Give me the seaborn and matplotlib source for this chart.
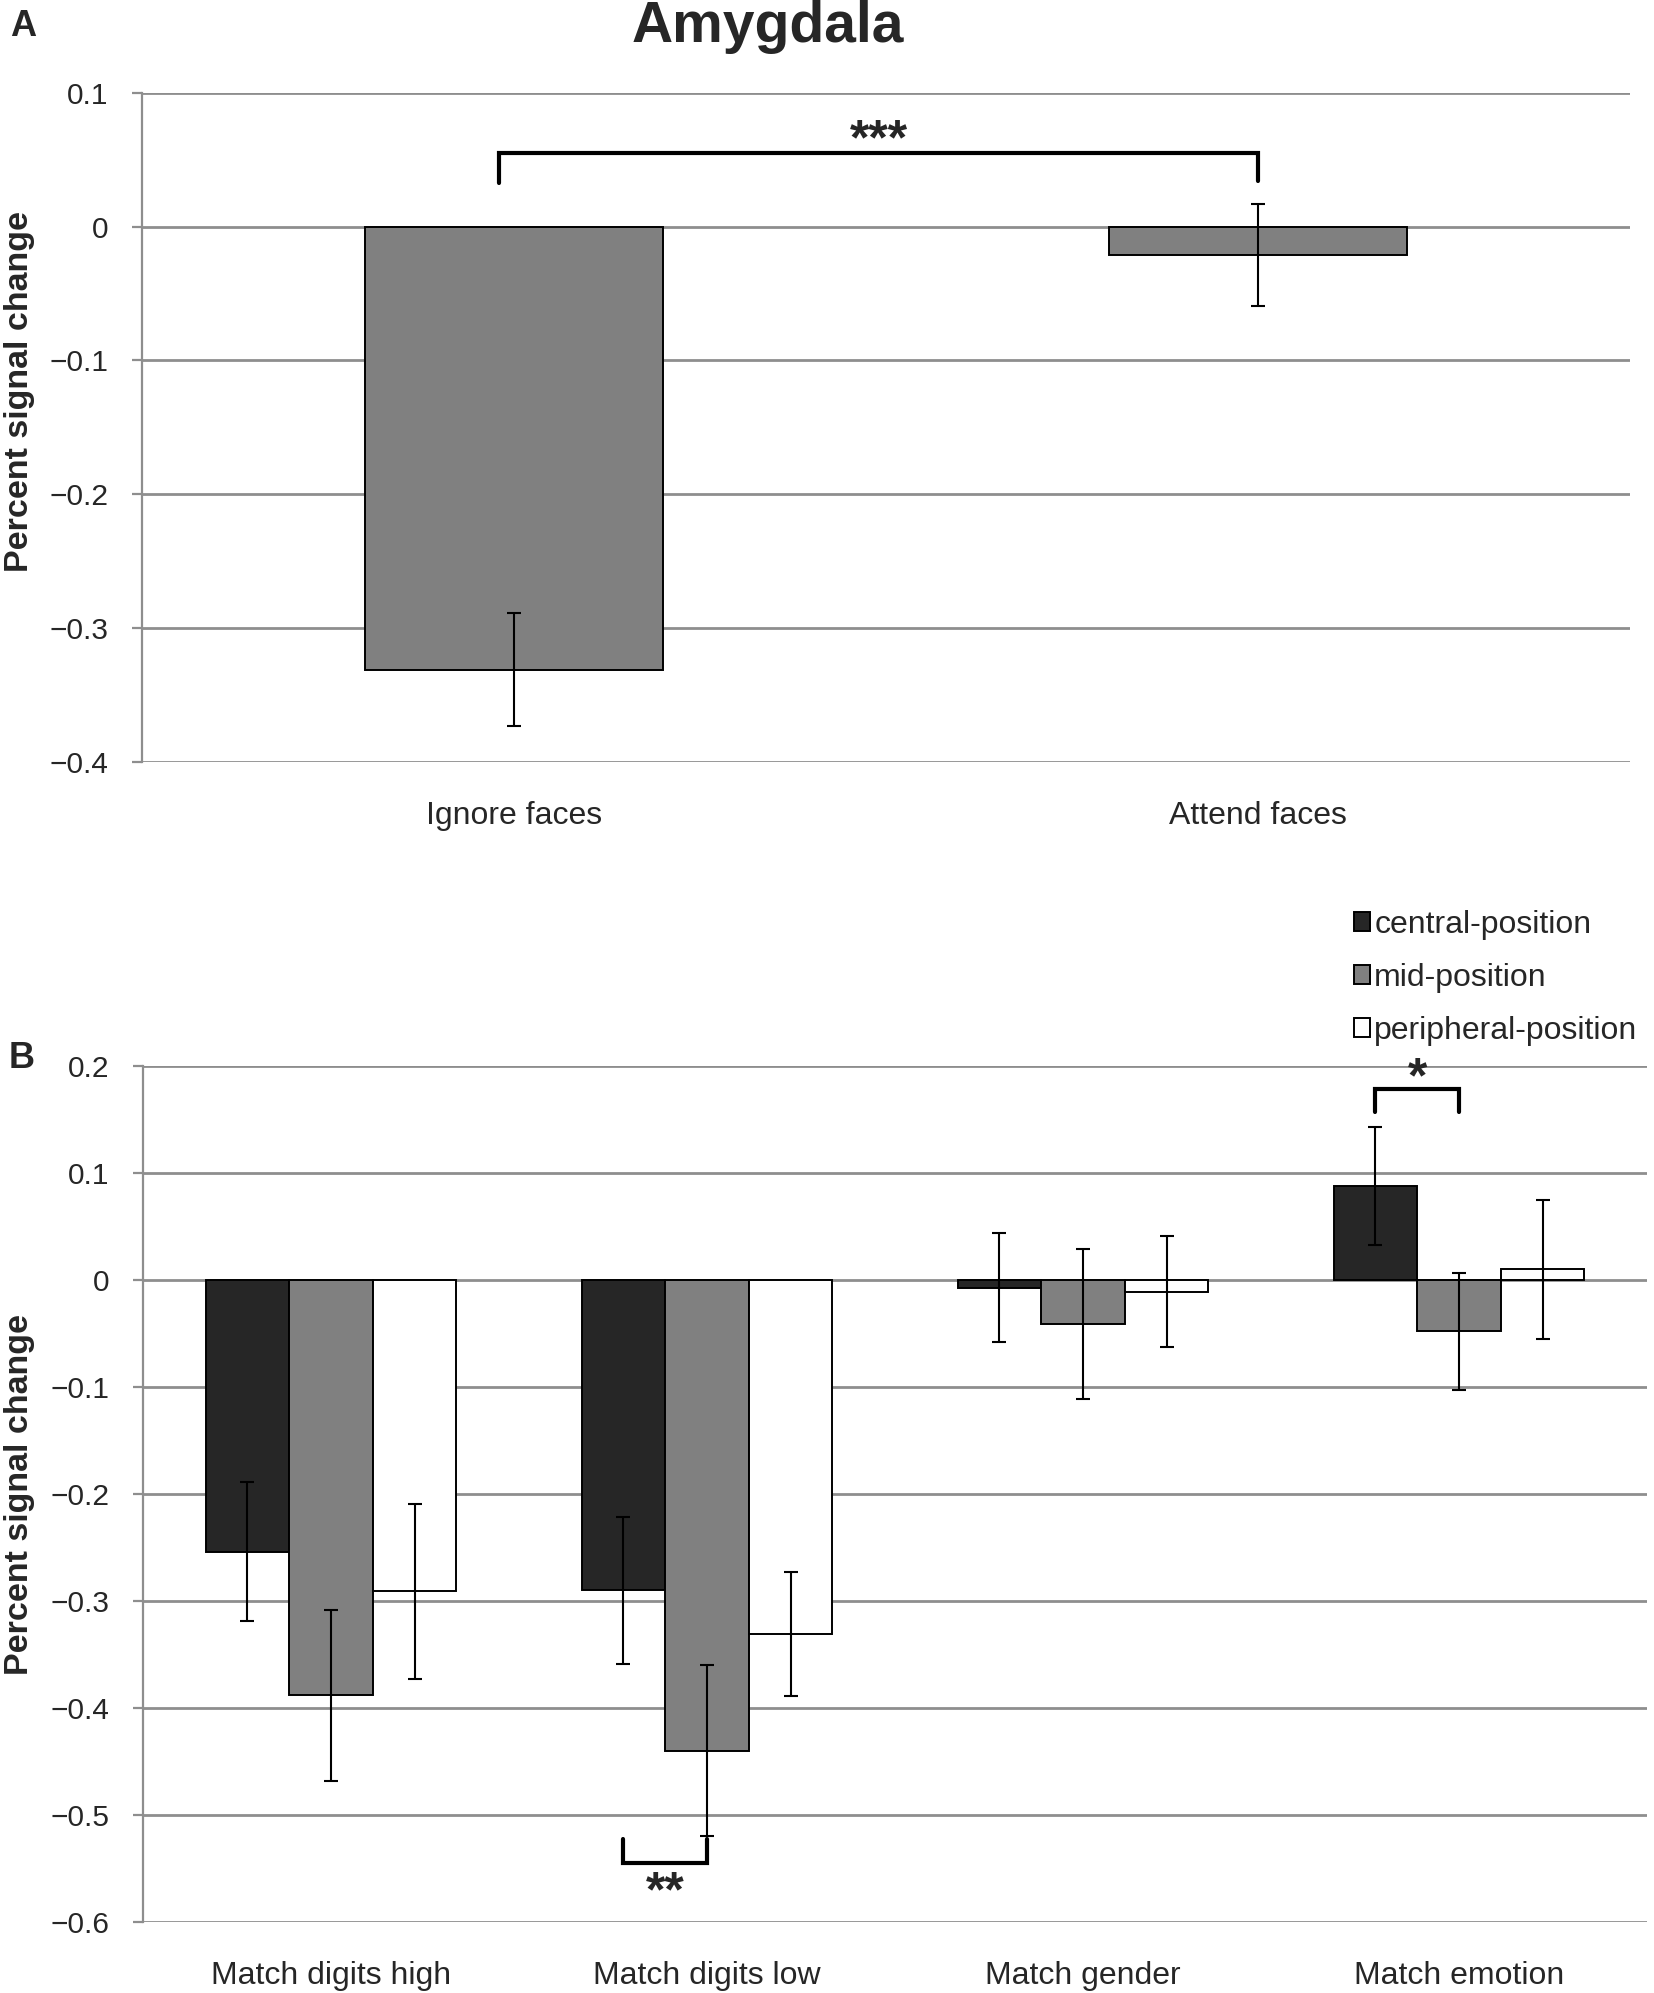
import numpy as np
import pandas as pd
import matplotlib
matplotlib.use('Agg')
import matplotlib.pyplot as plt
import seaborn as sns

# panel A
conds_a = ['Ignore faces', 'Attend faces']
psc_a = [-0.331, -0.021]
err_a = [0.042, 0.038]

# panel B
tasks_b = ['Match digits high', 'Match digits low', 'Match gender', 'Match emotion']
positions_b = ['central-position', 'mid-position', 'peripheral-position']
psc_central = [-0.254, -0.290, -0.007, 0.088]
psc_mid = [-0.388, -0.440, -0.041, -0.048]
psc_periph = [-0.291, -0.331, -0.011, 0.010]
err_central = [0.065, 0.069, 0.051, 0.055]
err_mid = [0.080, 0.080, 0.070, 0.055]
err_periph = [0.082, 0.058, 0.052, 0.065]

yticks_a = [0.1, 0.0, -0.1, -0.2, -0.3, -0.4]
yticks_b = [0.2, 0.1, 0.0, -0.1, -0.2, -0.3, -0.4, -0.5, -0.6]

sns.set_style('white')
plt.rcParams['font.family'] = ['Liberation Sans', 'DejaVu Sans']
plt.rcParams['axes.unicode_minus'] = True

df_a = pd.DataFrame({'cond': conds_a, 'psc': psc_a, 'err': err_a})
df_b = pd.DataFrame({
    'task': tasks_b * 3,
    'pos': np.repeat(positions_b, len(tasks_b)),
    'psc': psc_central + psc_mid + psc_periph,
    'err': err_central + err_mid + err_periph,
})

fig = plt.figure(figsize=(16.54, 19.93), dpi=100)
ax1 = fig.add_axes([0.0859, 0.6177, 0.8996, 0.3357])
ax2 = fig.add_axes([0.0865, 0.0356, 0.9093, 0.4295])

grid_col = '#8e8e8e'


def style_axis(ax, ticks):
    ax.set_ylim(ticks[-1], ticks[0])
    ax.set_yticks(ticks)
    ax.set_yticklabels(['0' if t == 0 else ('%.1f' % t).replace('-', '\u2212') for t in ticks])
    ax.yaxis.grid(True, color=grid_col, lw=2.0)
    ax.set_axisbelow(True)
    for s in ['top', 'right', 'bottom']:
        ax.spines[s].set_visible(False)
    ax.spines['left'].set_color(grid_col)
    ax.spines['left'].set_linewidth(1.6)
    ax.tick_params(axis='y', direction='out', length=7, width=1.6, color=grid_col,
                   labelsize=21.5, pad=17, left=True)
    ax.tick_params(axis='x', length=0, labelsize=23, pad=28)
    ax.set_xlabel('')
    ax.set_ylabel('Percent signal change', fontsize=24.5, fontweight='bold')


# ---- A ----
sns.barplot(data=df_a, x='cond', y='psc', color='#808080', width=0.4,
            edgecolor='black', linewidth=1.4, errorbar=None, saturation=1, ax=ax1)
bars_a = ax1.containers[0].patches
xa = [p.get_x() + p.get_width() / 2 for p in bars_a]
ax1.errorbar(xa, df_a['psc'], yerr=df_a['err'], fmt='none', ecolor='black',
             elinewidth=1.5, capsize=5, capthick=1.5, zorder=5)
style_axis(ax1, yticks_a)
ax1.set_xlim(-0.5, 1.5)
ax1.yaxis.set_label_coords(-0.072, 0.553)

# significance bracket A
xl, xr = xa[0] - 0.02, xa[1]
ax1.plot([xl, xl, xr, xr], [0.033, 0.0553, 0.0553, 0.034], color='black', lw=3,
         solid_joinstyle='miter', zorder=6)
ax1.annotate('***', ((xl + xr) / 2, 0.0695), xytext=(0, -15), textcoords='offset points',
             ha='center', va='baseline', fontsize=36, fontweight='bold')

# ---- B ----
pal = {'central-position': '#262626', 'mid-position': '#808080', 'peripheral-position': 'white'}
sns.barplot(data=df_b, x='task', y='psc', hue='pos', hue_order=positions_b, palette=pal,
            width=0.667, edgecolor='black', linewidth=1.4, errorbar=None, saturation=1, ax=ax2)
centers = {}
for pos, cont in zip(positions_b, ax2.containers):
    xs = [p.get_x() + p.get_width() / 2 for p in cont.patches]
    centers[pos] = xs
    sub = df_b[df_b['pos'] == pos]
    ax2.errorbar(xs, sub['psc'], yerr=sub['err'], fmt='none', ecolor='black',
                 elinewidth=1.5, capsize=5, capthick=1.5, zorder=5)
style_axis(ax2, yticks_b)
ax2.set_xlim(-0.5, 3.5)
ax2.yaxis.set_label_coords(-0.072, 0.5)

handles, labels = ax2.get_legend_handles_labels()
ax2.get_legend().remove()
fig.legend(handles, labels, loc='upper left', bbox_to_anchor=(0.8185, 0.5435),
           frameon=False, fontsize=23, handlelength=0.52, handleheight=0.52,
           handletextpad=0.12, labelspacing=0.72, borderpad=0, borderaxespad=0)

# brackets B
x1, x2 = centers['central-position'][1], centers['mid-position'][1]
ax2.plot([x1, x1, x2, x2], [-0.522, -0.545, -0.545, -0.522], color='black', lw=3,
         solid_joinstyle='miter', zorder=6)
ax2.annotate('**', ((x1 + x2) / 2, -0.565), xytext=(0, -16), textcoords='offset points',
             ha='center', va='baseline', fontsize=36, fontweight='bold')
x1, x2 = centers['central-position'][3], centers['mid-position'][3]
ax2.plot([x1, x1, x2, x2], [0.157, 0.179, 0.179, 0.157], color='black', lw=3,
         solid_joinstyle='miter', zorder=6)
ax2.annotate('*', ((x1 + x2) / 2, 0.196), xytext=(0, -16), textcoords='offset points',
             ha='center', va='baseline', fontsize=36, fontweight='bold', annotation_clip=False)

# panel letters and title
fig.text(0.006, 1 - 36 / 1993, 'A', fontsize=26, fontweight='bold', va='baseline')
fig.text(0.005, 1 - 1068 / 1993, 'B', fontsize=26, fontweight='bold', va='baseline')
fig.text(768 / 1654, 1 - 42 / 1993, 'Amygdala', fontsize=41, fontweight='bold',
         ha='center', va='baseline')

fig.savefig('out.png', dpi=100)
